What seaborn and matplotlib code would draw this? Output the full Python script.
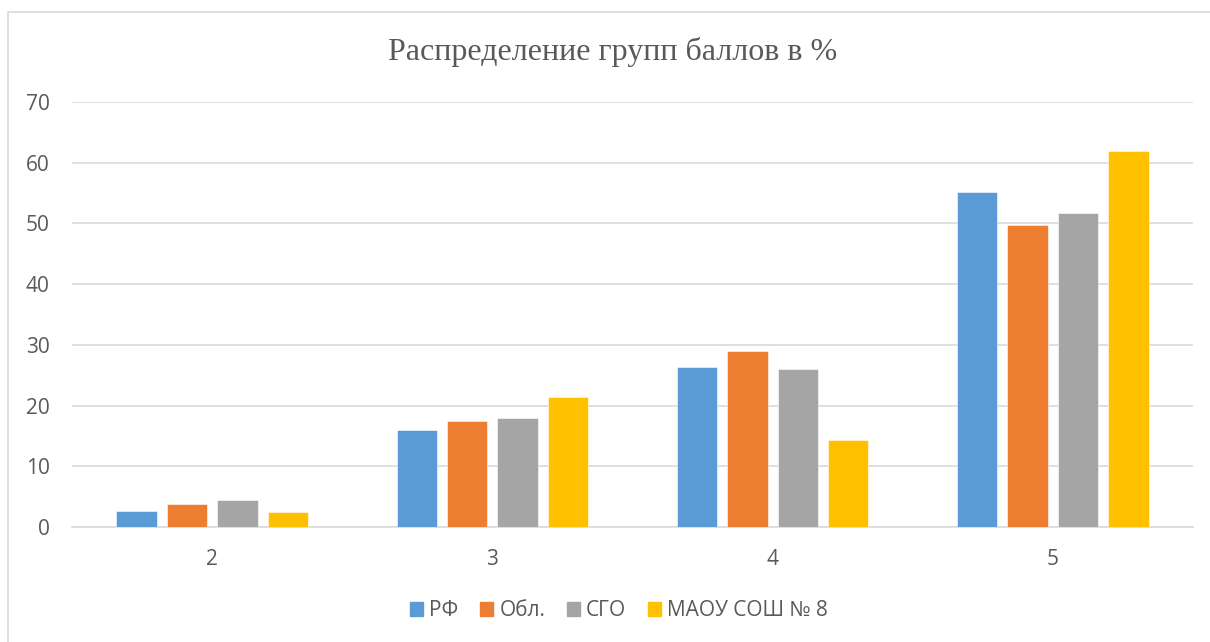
import matplotlib
matplotlib.use("Agg")
import matplotlib.pyplot as plt
import matplotlib.patches as mpatches
import pandas as pd
import seaborn as sns

# data
groups = ["2", "3", "4", "5"]
series = ["РФ", "Обл.", "СГО", "МАОУ СОШ № 8"]
rf = [2.6, 15.9, 26.3, 55.1]
obl = [3.8, 17.4, 29.0, 49.8]
sgo = [4.4, 18.0, 26.0, 51.7]
maou = [2.4, 21.4, 14.3, 61.9]
colors = ["#5B9BD5", "#ED7D31", "#A5A5A5", "#FFC000"]

df = pd.DataFrame({
    "group": groups * 4,
    "series": [s for s in series for _ in groups],
    "value": rf + obl + sgo + maou,
})

sns.set_style("white")
plt.rcParams["font.family"] = ["Open Sans", "DejaVu Sans"]

fig = plt.figure(figsize=(12.1, 6.42), dpi=100)
ax = fig.add_axes([72 / 1210, 115 / 642, 1121 / 1210, 425 / 642])

sns.barplot(data=df, x="group", y="value", hue="series", palette=colors,
            width=0.72, gap=0.2, ax=ax, saturation=1,
            edgecolor="white", linewidth=0.4, zorder=3)

ax.set_ylim(0, 70)
ax.set_yticks(range(0, 71, 10))
ax.set_xlim(-0.5, 3.5)
ax.grid(axis="y", color="#D9D9D9", linewidth=1.2, zorder=0)
ax.set_axisbelow(True)
for side in ["top", "right", "left"]:
    ax.spines[side].set_visible(False)
ax.spines["bottom"].set_color("#D9D9D9")
ax.spines["bottom"].set_linewidth(1.2)
ax.tick_params(axis="both", length=0, labelsize=15, colors="#595959")
ax.tick_params(axis="x", pad=16)
ax.tick_params(axis="y", pad=16)
ax.set_xlabel("")
ax.set_ylabel("")

fig.text(613 / 1210, 1 - 52 / 642, "Распределение групп баллов в %",
         ha="center", va="center", fontsize=23, color="#595959",
         family=["Liberation Serif", "DejaVu Serif"])

handles = [mpatches.Patch(color=c) for c in colors]
leg = fig.legend(handles, series, loc="center", bbox_to_anchor=(619 / 1210, 1 - 611 / 642),
                 ncol=4, frameon=False, fontsize=15, handlelength=0.62,
                 handleheight=0.62, handletextpad=0.3, columnspacing=1.05)
for t in leg.get_texts():
    t.set_color("#595959")
ax.get_legend().remove()

# chart frame
fig.patches.append(mpatches.Rectangle((8 / 1210, -0.05), 1.2, 1 - 12 / 642 + 0.05,
                                      transform=fig.transFigure, fill=False,
                                      edgecolor="#D9D9D9", linewidth=1.2))

fig.savefig("out.png", dpi=100)
